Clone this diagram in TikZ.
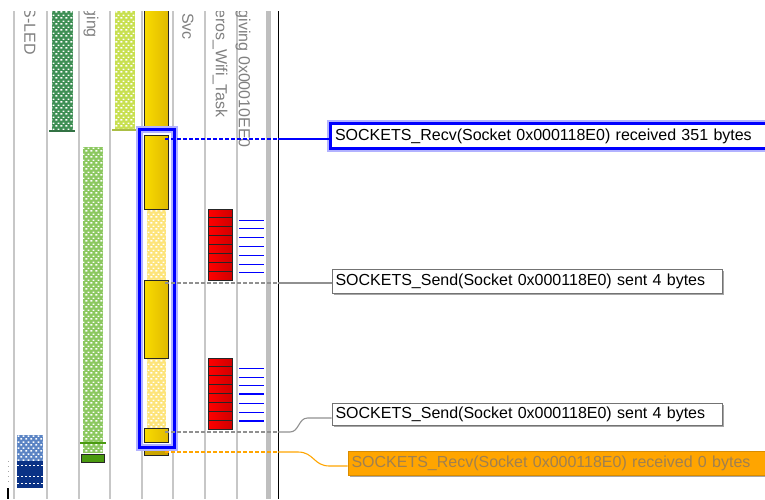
\documentclass[tikz,border=0pt]{standalone}
\usepackage{fontspec}
\setmainfont{Liberation Sans}
\usetikzlibrary{patterns.meta,shadows}
\definecolor{goldL}{HTML}{FADC00}
\definecolor{goldR}{HTML}{E0BA00}
\definecolor{goldD}{HTML}{C8A000}
\definecolor{dgreen}{HTML}{3F8F55}
\definecolor{lgreen}{HTML}{8CC860}
\definecolor{ygreen}{HTML}{C8E050}
\definecolor{lyellow}{HTML}{FDE47A}
\definecolor{lblue}{HTML}{5B84C4}
\definecolor{dblue}{HTML}{0A3286}
\definecolor{sgreen}{HTML}{4A9A10}
\definecolor{orangeF}{HTML}{FFA500}
\definecolor{orangeT}{HTML}{A08050}
\definecolor{cgrayc}{HTML}{909090}
\definecolor{pureblue}{HTML}{0000FF}
\tikzdeclarepattern{
  name=mesh,
  type=uncolored,
  bounding box={(0pt,0pt) and (5pt,6pt)},
  tile size={(5pt,6pt)},
  code={
    \fill (0.5pt,0.5pt) rectangle (2.6pt,2.1pt);
    \fill (3pt,3.5pt) rectangle (5pt,5.1pt);
  }
}
\begin{document}
\begin{tikzpicture}[x=1pt,y=-1pt,
  colline/.style={draw=black!22, line width=1.8pt},
  lbl/.style={rotate=-90, anchor=east, text=black!50, font=\fontsize{16}{16}\selectfont, inner sep=0pt},
  goldbox/.style={draw=black!85, line width=1pt, left color=goldL, right color=goldR},
  redbox/.style={draw=black!85, line width=1pt, left color=red, right color=red!82!black},
  bluel/.style={draw=pureblue, line width=1.3pt},
  meshw/.style={pattern=mesh, pattern color=white},
  msg/.style={draw=black!55, line width=1pt, fill=white, anchor=west, align=left,
    font=\fontsize{16}{16}\selectfont, inner xsep=3.5pt, inner ysep=0pt,
    drop shadow={shadow xshift=2pt, shadow yshift=-2pt, fill=black!35, opacity=1}},
  conn/.style={line width=1.1pt},
  dsh/.style={dash pattern=on 4pt off 2pt}
]
\useasboundingbox (0,0) rectangle (765,499);
\clip (0,0) rectangle (765,499);

% column lines
\foreach \x in {14,47,79,110,142,173,205,237}
  \draw[colline] (\x,11) -- (\x,499);
\fill[black!25] (266,11) rectangle (271,499);
\draw[black, line width=1pt] (278,11) -- (278,499);

% labels
\begin{scope}
\clip (0,11) rectangle (280,499);
\node[lbl] (l1) at (30,55) {S-LED};
\node[lbl] (l3) at (91,38) {ging};
\node[lbl] (l6) at (188,40) {Svc};
\node[lbl] (l7) at (220,118) {eros\_Wifi\_Task};
\node[lbl] (l8) at (243,148) {giving 0x00010EE0};
\end{scope}

% column 1 (blue)
\fill[lblue] (17,435) rectangle (43,461);
\fill[meshw] (17,435) rectangle (43,461);
\fill[dblue] (17,461) rectangle (43,488);
\foreach \y in {465.5,476.5,483}
  \draw[white, line width=1pt, dash pattern=on 2pt off 2pt] (17,\y) -- (43,\y);
\draw[black!35, line width=1pt, dash pattern=on 1pt off 4pt] (8,461) -- (8,486);
\draw[black, line width=1.2pt] (8,488) -- (8,499);

% column 2 (dark green)
\fill[dgreen] (52,11) rectangle (73,131);
\fill[meshw] (52,11) rectangle (73,131);
\draw[dgreen!80!black, line width=2pt] (49,131) -- (75,131);

% column 3 (light green)
\fill[lgreen] (83,147) rectangle (103,453);
\fill[meshw] (83,147) rectangle (103,453);
\draw[sgreen, line width=2.5pt] (80,443) -- (106,443);
\draw[draw=black!85, line width=1pt, fill=sgreen] (81.5,454.5) rectangle (104.5,462);

% column 4 (yellow green)
\fill[ygreen] (115,11) rectangle (135,129);
\fill[meshw] (115,11) rectangle (135,129);
\draw[ygreen!85!black, line width=2pt] (112,130) -- (137,130);

% column 5 (gold)
\begin{scope}
\clip (0,11) rectangle (280,499);
\draw[goldbox] (144,5) rectangle (168,129);
\end{scope}
\fill[lyellow] (147,210) rectangle (166,280);
\fill[meshw] (147,210) rectangle (166,280);
\fill[lyellow] (147,358) rectangle (166,428);
\fill[meshw] (147,358) rectangle (166,428);
\draw[goldbox] (144,135) rectangle (168,209);
\draw[goldbox] (144,280) rectangle (168,358);
\draw[goldbox] (144,428) rectangle (168,442);
\draw[draw=black!85, line width=1pt, left color=goldD!90!yellow, right color=goldD] (144,446) rectangle (168,455);
% selection frame
\draw[pureblue!30, line width=7pt] (139.5,129.5) rectangle (174.5,447);
\draw[pureblue, line width=3pt] (139.5,129.5) rectangle (174.5,447);

% column 7 (red)
\foreach \i in {0,...,7}
  \draw[redbox] (208,{209+\i*8.875}) rectangle (232,{209+(\i+1)*8.875});
\foreach \i in {0,...,7}
  \draw[redbox] (208,{358+\i*8.9}) rectangle (232,{358+(\i+1)*8.9});

% column 8 (blue lines)
\foreach \y in {220.7,228.7,237.3,246.7,255.7,264.7,272.7}
  \draw[bluel] (239,\y) -- (264,\y);
\foreach \y in {368.3,377.3,385.3,394,403.3,412.3,421}
  \draw[bluel] (239,\y) -- (264,\y);

% message boxes
\node[anchor=west, draw=pureblue, line width=3pt, fill=white, align=left,
  preaction={draw=pureblue!30, line width=7pt},
  font=\fontsize{16}{16}\selectfont, inner xsep=5pt, inner ysep=0pt,
  text width=431pt, minimum height=25pt] (b1) at (328.5,136)
  {SOCKETS\_Recv(Socket 0x000118E0) received 351 bytes};
\node[msg, text width=383pt, minimum height=24pt] (b2) at (331.5,281)
  {SOCKETS\_Send(Socket 0x000118E0) sent 4 bytes};
\node[msg, text width=383pt, minimum height=22pt] (b3) at (331.5,414)
  {SOCKETS\_Send(Socket 0x000118E0) sent 4 bytes};
\node[msg, draw=orangeF!85!black, fill=orangeF, text=orangeT, text width=420pt, minimum height=24pt] (b4) at (347.5,463)
  {SOCKETS\_Recv(Socket 0x000118E0) received 0 bytes};

% connectors
\coordinate (s1) at (165,139); \coordinate (m1) at (278,139);
\coordinate (s2) at (165,283); \coordinate (m2) at (278,283);
\coordinate (s3) at (165,432); \coordinate (m3) at (278,432);
\coordinate (s4) at (165,452); \coordinate (m4) at (278,452);

\draw[conn, draw=pureblue, dsh] (s1) -- (m1);
\draw[conn, draw=pureblue] (m1) -- (m1 -| b1.west);
\draw[conn, draw=cgrayc, dsh] (s2) -- (m2);
\draw[conn, draw=cgrayc] (m2) -- (m2 -| b2.west);
\draw[conn, draw=cgrayc, dsh] (s3) -- (m3);
\draw[conn, draw=cgrayc] (m3) -- ++(12,0) .. controls +(9,0) and +(-9,0) .. ([xshift=-24pt,yshift=-4pt]b3.west) -- ([yshift=-4pt]b3.west);
\draw[conn, draw=orangeF, dsh] (s4) -- (m4);
\draw[conn, draw=orangeF] (m4) -- ++(20,0) .. controls +(16,0) and +(-16,0) .. ([xshift=-18pt,yshift=-3pt]b4.west) -- ([yshift=-3pt]b4.west);
\end{tikzpicture}
\end{document}
